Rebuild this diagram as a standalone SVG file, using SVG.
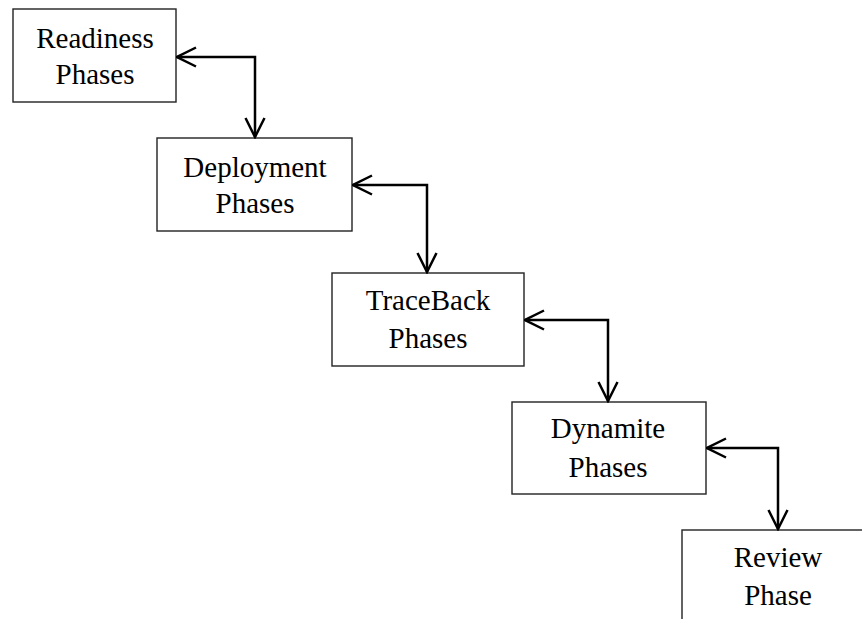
<svg xmlns="http://www.w3.org/2000/svg" width="862" height="619" viewBox="0 0 862 619">
<style>
.box{fill:#fff;stroke:#222;stroke-width:1.4}
.lbl{font-family:"Liberation Serif","Times New Roman",serif;font-size:29px;fill:#000;text-anchor:middle}
.con{fill:none;stroke:#000;stroke-width:2.5}
</style>
<defs>
<marker id="ah" viewBox="0 0 22 22" refX="20.5" refY="11" markerWidth="22" markerHeight="22" markerUnits="userSpaceOnUse" orient="auto-start-reverse">
<path d="M1.5,1.5 L20.5,11 L1.5,20.5" fill="none" stroke="#000" stroke-width="2.5"/>
</marker>
</defs>
<rect width="862" height="619" fill="#fff"/>
<g id="readiness">
<rect class="box" x="13" y="9" width="163" height="93"/>
<text class="lbl" x="95" y="48">Readiness</text>
<text class="lbl" x="95" y="84">Phases</text>
</g>
<g id="deployment">
<rect class="box" x="157" y="138" width="195" height="93"/>
<text class="lbl" x="255" y="177">Deployment</text>
<text class="lbl" x="255" y="213">Phases</text>
</g>
<g id="traceback">
<rect class="box" x="332" y="273" width="192" height="93"/>
<text class="lbl" x="428" y="310">TraceBack</text>
<text class="lbl" x="428" y="348">Phases</text>
</g>
<g id="dynamite">
<rect class="box" x="512" y="402" width="194" height="92"/>
<text class="lbl" x="608" y="438">Dynamite</text>
<text class="lbl" x="608" y="477">Phases</text>
</g>
<g id="review">
<rect class="box" x="682" y="530" width="200" height="120"/>
<text class="lbl" x="778" y="567">Review</text>
<text class="lbl" x="778" y="605">Phase</text>
</g>
<g id="connectors">
<path class="con" d="M177,57 H255 V137" marker-start="url(#ah)" marker-end="url(#ah)"/>
<path class="con" d="M353,185 H427 V272" marker-start="url(#ah)" marker-end="url(#ah)"/>
<path class="con" d="M525,320 H608 V401" marker-start="url(#ah)" marker-end="url(#ah)"/>
<path class="con" d="M707,448 H778 V529" marker-start="url(#ah)" marker-end="url(#ah)"/>
</g>
</svg>
